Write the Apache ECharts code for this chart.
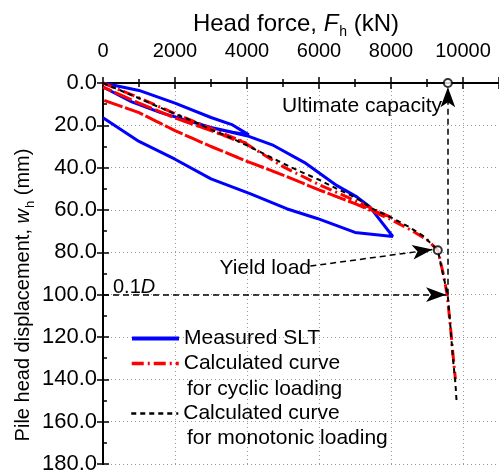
<!DOCTYPE html>
<html>
<head>
<meta charset="utf-8">
<script src="https://cdn.jsdelivr.net/npm/echarts@6/dist/echarts.min.js"></script>
<style>
  html, body { margin: 0; padding: 0; background: #fff; }
  #main { width: 499px; height: 475px; }
</style>
</head>
<body>
<div id="main"></div>
<script>
// [head force kN, displacement mm]
const measuredSLT = [
  [0, 0], [1000, 3.5], [2000, 9.5], [3000, 16.3], [3600, 19.8], [4050, 24.5],
  [3600, 23.3], [3000, 21], [1600, 14], [800, 8.9], [0, 1.9],
  [800, 8.9], [1600, 14], [3000, 21], [4050, 25.2], [4700, 29.2], [5600, 37.6], [6500, 48.5],
  [7050, 53.8], [7400, 58.3], [8050, 72.5],
  [7000, 70.6], [5950, 64], [5100, 59.4], [4100, 52.4], [3000, 45.3], [2000, 36], [1000, 27.6], [0, 16.4]
];

const cyclicCalc = [
  [0, 0], [1000, 7], [2000, 14.5], [3000, 21.5], [4000, 28.5],
  [3000, 22.5], [2000, 16.5], [1000, 9.5], [0, 2],
  [1000, 9.5], [2000, 16.5], [3000, 22.5], [4000, 29], [5000, 39.5], [6000, 48], [7000, 55.5], [8000, 63.5],
  [7000, 57], [6000, 50.5], [5000, 43.5], [4000, 37], [3000, 30], [2000, 22.5], [1000, 14], [0, 8],
  [1000, 14], [2000, 22.5], [3000, 30], [4000, 37], [5000, 43.5], [6000, 50.5], [7000, 57], [8000, 64.5],
  [8500, 69], [9000, 74], [9300, 79], [9450, 90], [9560, 100], [9650, 115], [9720, 128], [9790, 140]
];

const monotonicCalc = [
  [0, 0], [650, 4.7], [1000, 7.2], [1500, 11], [2000, 14.6], [2500, 18], [3000, 22], [3500, 25.5],
  [4000, 29.5], [4500, 33.7], [5000, 38], [5500, 42], [6000, 45.7], [6500, 50], [7000, 54],
  [7500, 59.5], [8000, 63.5], [8500, 68], [8900, 72.3], [9300, 79], [9440, 90], [9575, 100],
  [9650, 115], [9720, 130], [9790, 142], [9820, 150]
];

const keyPoints = [[9580, 0], [9300, 79]]; // ultimate capacity, yield load
const forceTicks = [0, 2000, 4000, 6000, 8000, 10000];
const dispTicks = [0, 20, 40, 60, 80, 100, 120, 140, 160, 180];

const FONT = '"Liberation Sans", Arial, sans-serif';
const gridDot = { show: true, lineStyle: { color: '#9a9a9a', type: [1, 3], width: 1 } };

const chart = echarts.init(document.getElementById('main'));

function valueAxisX(position, showLabel) {
  return {
    type: 'value',
    position: position,
    min: 0,
    max: 11000,
    interval: 2000,
    axisLine: { show: true, lineStyle: { color: '#000', width: 2 } },
    axisTick: { show: true, inside: true, length: 6, lineStyle: { color: '#000', width: 1.5 } },
    minorTick: { show: true, splitNumber: 2, length: 4, lineStyle: { color: '#000', width: 1.5 } },
    axisLabel: {
      show: showLabel,
      showMaxLabel: false,
      margin: 22,
      fontSize: 20,
      fontFamily: FONT,
      color: '#000',
      formatter: (v) => (forceTicks.includes(v) ? String(v) : '')
    },
    splitLine: showLabel ? gridDot : { show: false }
  };
}

function valueAxisY(position, showLabel) {
  return {
    type: 'value',
    position: position,
    inverse: true,
    min: 0,
    max: 180,
    interval: 20,
    axisLine: { show: true, lineStyle: { color: '#000', width: 2 } },
    axisTick: { show: true, inside: true, length: 6, lineStyle: { color: '#000', width: 1.5 } },
    minorTick: { show: showLabel, splitNumber: 2, length: 4, lineStyle: { color: '#000', width: 1.5 } },
    axisLabel: {
      show: showLabel,
      margin: 6,
      fontSize: 22,
      fontFamily: FONT,
      color: '#000',
      formatter: (v) => (dispTicks.includes(v) ? v.toFixed(1) : '')
    },
    splitLine: showLabel ? gridDot : { show: false }
  };
}

const legendBase = {
  orient: 'vertical',
  left: 130,
  padding: 0,
  itemWidth: 47,
  itemHeight: 12,
  itemGap: 0,
  selectedMode: false,
  itemStyle: { opacity: 0 },
  textStyle: { fontSize: 21, fontFamily: FONT, color: '#000' }
};

const textBase = { fontSize: 21, fontFamily: FONT, fill: '#000' };
const richTitle = {
  n: { fontSize: 20, fontFamily: FONT, color: '#000' },
  i: { fontSize: 20, fontFamily: FONT, color: '#000', fontStyle: 'italic' },
  s: { fontSize: 13, fontFamily: FONT, color: '#000', padding: [14, 0, 0, 1] }
};
const richTop = {
  n: { fontSize: 24, fontFamily: FONT, color: '#000' },
  i: { fontSize: 24, fontFamily: FONT, color: '#000', fontStyle: 'italic' },
  s: { fontSize: 14, fontFamily: FONT, color: '#000', padding: [16, 0, 0, 1] }
};

const option = {
  animation: false,
  backgroundColor: '#fff',
  grid: { left: 103, top: 83, width: 401, height: 385 },
  xAxis: [valueAxisX('top', true), valueAxisX('bottom', false)],
  yAxis: [valueAxisY('left', true), valueAxisY('right', false)],
  legend: [
    Object.assign({}, legendBase, { top: 328, data: ['Measured SLT'], lineStyle: { width: 4 } }),
    Object.assign({}, legendBase, { top: 353, data: ['cyclic'], lineStyle: { width: 3.5 },
      formatter: () => 'Calculated curve' }),
    Object.assign({}, legendBase, { top: 403, data: ['monotonic'], lineStyle: { width: 2.5 },
      formatter: () => 'Calculated curve' })
  ],
  graphic: [
    { type: 'text', x: 296, y: 24, style: Object.assign({}, textBase, {
        text: '{n|Head force, }{i|F}{s|h}{n| (kN)}', rich: richTop, align: 'center', verticalAlign: 'middle' }) },
    { type: 'text', x: 23, y: 295, rotation: Math.PI / 2, style: Object.assign({}, textBase, {
        text: '{n|Pile head displacement, }{i|w}{s|h}{n| (mm)}', rich: richTitle, align: 'center', verticalAlign: 'middle' }) },
    { type: 'text', x: 187, y: 389, style: Object.assign({}, textBase, { text: 'for cyclic loading', verticalAlign: 'middle' }) },
    { type: 'text', x: 187, y: 438, style: Object.assign({}, textBase, { text: 'for monotonic loading', verticalAlign: 'middle' }) },
    { type: 'text', x: 442, y: 106, style: Object.assign({}, textBase, { text: 'Ultimate capacity', align: 'right', verticalAlign: 'middle' }) },
    { type: 'text', x: 311, y: 268, style: Object.assign({}, textBase, { text: 'Yield load', align: 'right', verticalAlign: 'middle' }) },
    { type: 'text', x: 113, y: 287, style: Object.assign({}, textBase, {
        text: '{n|0.1}{i|D}', rich: { n: richTitle.n, i: richTitle.i }, verticalAlign: 'middle' }) }
  ],
  series: [
    {
      name: 'Measured SLT',
      type: 'line',
      data: measuredSLT,
      symbol: 'none',
      lineStyle: { color: '#0000ff', width: 3 },
      itemStyle: { color: '#0000ff' }
    },
    {
      name: 'cyclic',
      type: 'line',
      data: cyclicCalc,
      symbol: 'none',
      lineStyle: { color: '#ff0000', width: 3, type: [12, 4, 2, 4] },
      itemStyle: { color: '#ff0000' }
    },
    {
      name: 'monotonic',
      type: 'line',
      data: monotonicCalc,
      symbol: 'none',
      lineStyle: { color: '#000', width: 2, type: [5, 4] },
      itemStyle: { color: '#000' },
      markLine: {
        silent: true,
        symbol: ['none', 'arrow'],
        symbolSize: [11, 20],
        label: { show: false },
        lineStyle: { color: '#000', width: 1.5, type: [6, 4] },
        data: [
          [{ coord: [9580, 100] }, { coord: [9580, 2] }],
          [{ coord: [0, 100] }, { coord: [9530, 100] }],
          [{ coord: [5760, 86.5] }, { coord: [9150, 78.7] }]
        ]
      }
    },
    {
      name: 'points',
      type: 'scatter',
      data: keyPoints,
      clip: false,
      symbol: 'emptyCircle',
      symbolSize: 8,
      itemStyle: { color: '#000', borderWidth: 1.5 },
      z: 5
    }
  ]
};

chart.setOption(option);
</script>
</body>
</html>
